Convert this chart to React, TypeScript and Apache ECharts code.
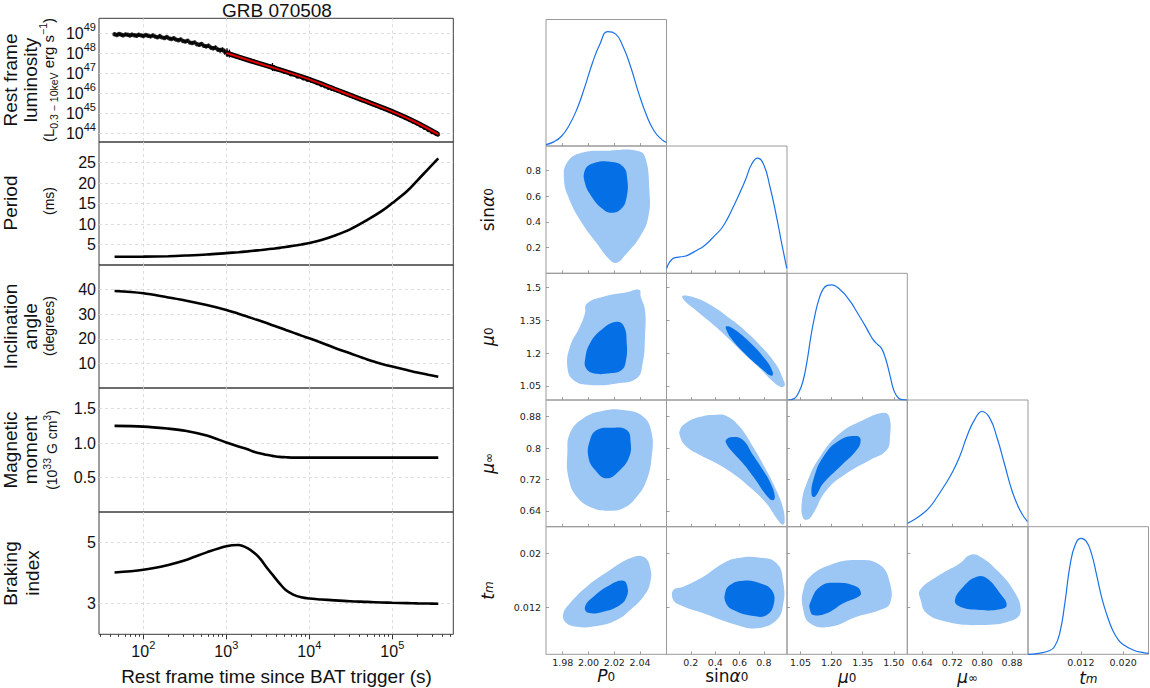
import React, { useEffect, useRef } from 'react';
import * as echarts from 'echarts';

const SANS = '"Liberation Sans", Arial, Helvetica, sans-serif';
const DEJAVU = '"DejaVu Sans", "Liberation Sans", sans-serif';

// ---------------- GRB 070508: magnetar model vs rest-frame time ----------------
// rest-frame time (s) for the model curves
const modelTime = [45, 100, 200, 320, 580, 1000, 1400, 1800, 2200, 2600, 3000, 3600, 4400, 5200, 6400, 8000, 10000, 14000, 20000, 31000, 50000, 75000, 100000, 150000, 200000, 270000, 358000];
const periodMs = [2.0, 2.05, 2.15, 2.3, 2.55, 2.9, 3.12, 3.32, 3.5, 3.65, 3.8, 3.98, 4.18, 4.4, 4.68, 5.0, 5.35, 6.1, 7.15, 8.7, 11.0, 13.2, 15.1, 18.0, 20.6, 23.4, 26.0];
const inclinationDeg = [39.4, 38.5, 36.8, 35.6, 33.7, 31.7, 30.2, 29.0, 28.0, 27.2, 26.5, 25.5, 24.5, 23.6, 22.5, 21.3, 20.2, 18.4, 16.4, 14.1, 11.6, 9.8, 8.7, 7.3, 6.3, 5.4, 4.6];
const magneticMoment = [1.25, 1.24, 1.21, 1.18, 1.11, 1.01, 0.95, 0.91, 0.87, 0.85, 0.83, 0.815, 0.8, 0.795, 0.79, 0.79, 0.79, 0.79, 0.79, 0.79, 0.79, 0.79, 0.79, 0.79, 0.79, 0.79, 0.79];
const brakingIndex = [4.02, 4.11, 4.27, 4.42, 4.68, 4.88, 4.92, 4.82, 4.65, 4.45, 4.22, 3.95, 3.66, 3.45, 3.3, 3.21, 3.17, 3.14, 3.11, 3.08, 3.06, 3.04, 3.03, 3.02, 3.01, 3.005, 3.0];

// model 0.3-10 keV luminosity, log10(erg/s)
const fitTime = [1000, 2000, 3900, 10000, 20000, 39000, 100000, 200000, 358000];
const fitLogL = [48.0, 47.6, 47.23, 46.68, 46.2, 45.73, 45.07, 44.5, 43.93];

// observed luminosity, log10(erg/s) with 1-sigma errors (dex)
const obsTime = [
  45, 48, 51, 54, 57, 61, 65, 69, 73, 78, 83, 88, 94, 100, 107, 114, 122, 130, 139, 148,
  158, 168, 180, 192, 205, 218, 233, 248, 265, 282, 301, 321, 342, 365, 389, 415, 443, 472, 503, 537,
  572, 610, 651, 694, 740, 789, 842, 898, 957, 1020, 1090,
  1150, 1300, 1500, 3400, 3600, 3800, 4000, 4300, 5000, 6000, 7200, 8500, 9500, 10500, 12500, 14000,
  15500, 17000, 18500, 20000, 22000, 25000, 28000, 31000, 34000, 37000, 41000, 46000, 52000, 58000,
  65000, 73000, 82000, 92000, 103000, 115000, 128000, 143000, 160000, 178000, 198000, 220000, 245000,
  272000, 302000, 335000, 355000,
];
const obsLogL = [
  48.94, 48.9, 48.95, 48.92, 48.88, 48.93, 48.91, 48.87, 48.92, 48.89, 48.86, 48.91, 48.88, 48.85, 48.9, 48.86, 48.83, 48.88, 48.82, 48.79,
  48.84, 48.78, 48.75, 48.8, 48.73, 48.7, 48.74, 48.67, 48.64, 48.68, 48.6, 48.57, 48.61, 48.52, 48.5, 48.53, 48.44, 48.41, 48.45, 48.36,
  48.33, 48.36, 48.27, 48.24, 48.27, 48.17, 48.14, 48.16, 48.06, 48.02, 47.97,
  47.93, 47.85, 47.76, 47.32, 47.3, 47.24, 47.2, 47.16, 47.06, 46.94, 46.82, 46.73, 46.66, 46.62, 46.5, 46.4,
  46.34, 46.26, 46.22, 46.19, 46.12, 46.02, 45.95, 45.88, 45.82, 45.77, 45.7, 45.62, 45.53, 45.45,
  45.37, 45.29, 45.21, 45.13, 45.04, 44.95, 44.86, 44.77, 44.67, 44.57, 44.48, 44.37, 44.26,
  44.15, 44.05, 43.97, 43.93,
];
const obsErr = [
  0.08, 0.07, 0.08, 0.07, 0.07, 0.08, 0.07, 0.07, 0.08, 0.07, 0.07, 0.08, 0.07, 0.07, 0.08, 0.07, 0.07, 0.08, 0.07, 0.07,
  0.1, 0.07, 0.07, 0.08, 0.07, 0.07, 0.08, 0.07, 0.07, 0.08, 0.07, 0.07, 0.08, 0.07, 0.07, 0.08, 0.08, 0.08, 0.09, 0.08,
  0.09, 0.1, 0.09, 0.1, 0.1, 0.1, 0.12, 0.12, 0.15, 0.22, 0.2,
  0.06, 0.05, 0.05, 0.12, 0.2, 0.15, 0.1, 0.06, 0.04, 0.04, 0.04, 0.04, 0.06, 0.05, 0.05, 0.08,
  0.06, 0.1, 0.12, 0.1, 0.08, 0.06, 0.05, 0.06, 0.05, 0.06, 0.04, 0.04, 0.04, 0.04,
  0.04, 0.04, 0.04, 0.04, 0.04, 0.04, 0.05, 0.05, 0.05, 0.05, 0.05, 0.05, 0.06,
  0.06, 0.07, 0.08, 0.1,
];

const decadeTicks = [2, 3, 4, 5];
const lumTicks = [44, 45, 46, 47, 48, 49];
const periodTicks = [5, 10, 15, 20, 25];
const inclinationTicks = [10, 20, 30, 40];
const momentTicks = [0.5, 1.0, 1.5];
const brakingTicks = [3, 5];

// ---------------- posterior of the magnetar parameters ----------------
const p0Grid = [1.967, 1.973, 1.979, 1.985, 1.991, 1.997, 2.003, 2.009, 2.015, 2.021, 2.027, 2.033, 2.039, 2.045, 2.051, 2.057, 2.0606];
const p0Density = [0.012, 0.036, 0.085, 0.18, 0.32, 0.51, 0.72, 0.89, 0.995, 0.975, 0.86, 0.68, 0.46, 0.27, 0.13, 0.055, 0.03];
const sinGrid = [0.002, 0.05, 0.1, 0.15, 0.2, 0.25, 0.3, 0.35, 0.4, 0.45, 0.5, 0.55, 0.6, 0.65, 0.7, 0.75, 0.8, 0.85, 0.9, 0.95, 0.988];
const sinDensity = [0.043, 0.125, 0.14, 0.147, 0.17, 0.2, 0.23, 0.275, 0.33, 0.385, 0.47, 0.578, 0.69, 0.81, 0.945, 0.995, 0.935, 0.748, 0.51, 0.24, 0.043];
const mu0Grid = [0.991, 1.02, 1.04, 1.06, 1.08, 1.1, 1.12, 1.14, 1.16, 1.18, 1.2, 1.22, 1.24, 1.26, 1.28, 1.3, 1.32, 1.34, 1.36, 1.38, 1.4, 1.42, 1.44, 1.46, 1.48, 1.5, 1.52, 1.54, 1.563];
const mu0Density = [0, 0.012, 0.06, 0.15, 0.32, 0.55, 0.74, 0.88, 0.965, 0.995, 1.0, 0.988, 0.96, 0.925, 0.88, 0.83, 0.77, 0.71, 0.65, 0.585, 0.525, 0.485, 0.45, 0.36, 0.225, 0.085, 0.02, 0.003, 0];
const muInfGrid = [0.601, 0.62, 0.64, 0.66, 0.68, 0.7, 0.72, 0.74, 0.76, 0.78, 0.8, 0.82, 0.84, 0.86, 0.88, 0.9, 0.921];
const muInfDensity = [0.03, 0.065, 0.11, 0.17, 0.26, 0.36, 0.47, 0.61, 0.79, 0.93, 1.0, 0.945, 0.77, 0.54, 0.31, 0.15, 0.043];
const tmGrid = [0.002, 0.004, 0.006, 0.007, 0.008, 0.009, 0.01, 0.011, 0.012, 0.013, 0.014, 0.015, 0.016, 0.017, 0.018, 0.019, 0.02, 0.022, 0.024, 0.0248];
const tmDensity = [0, 0.008, 0.03, 0.065, 0.18, 0.45, 0.78, 0.95, 1.0, 0.975, 0.87, 0.68, 0.48, 0.33, 0.21, 0.13, 0.085, 0.035, 0.012, 0.008];

// 68% (inner) and 95% (outer) credible regions, [x, y]
const sinVsP0Outer = [[1.983, 0.856], [1.9934, 0.934], [2.0167, 0.954], [2.0375, 0.954], [2.0439, 0.907], [2.0473, 0.648], [2.0465, 0.44], [2.04, 0.285], [2.0297, 0.156], [2.022, 0.082], [2.0167, 0.103], [2.0064, 0.233], [1.9934, 0.415], [1.9843, 0.596], [1.981, 0.726]];
const sinVsP0Inner = [[1.9973, 0.804], [2.0038, 0.856], [2.0167, 0.868], [2.027, 0.829], [2.0302, 0.726], [2.0297, 0.596], [2.0258, 0.506], [2.018, 0.471], [2.0103, 0.506], [2.0025, 0.596], [1.9973, 0.7]];
const mu0VsP0Outer = [[1.9986, 1.426], [2.0115, 1.458], [2.0297, 1.478], [2.0395, 1.489], [2.0406, 1.458], [2.0439, 1.397], [2.0439, 1.275], [2.0421, 1.153], [2.0375, 1.084], [2.022, 1.061], [2.0012, 1.054], [1.9882, 1.077], [1.9836, 1.137], [1.9856, 1.229], [1.9934, 1.321], [1.9973, 1.382]];
const mu0VsP0Inner = [[1.9973, 1.168], [2.0012, 1.245], [2.0115, 1.313], [2.022, 1.343], [2.0276, 1.321], [2.0297, 1.245], [2.0292, 1.168], [2.0258, 1.122], [2.0167, 1.107], [2.0038, 1.107], [1.9981, 1.13]];
const mu0VsSinOuter = [[0.133, 1.4625], [0.242, 1.452], [0.379, 1.414], [0.516, 1.36], [0.653, 1.299], [0.79, 1.223], [0.9, 1.147], [0.96, 1.078], [0.971, 1.051], [0.941, 1.045], [0.872, 1.071], [0.763, 1.132], [0.626, 1.203], [0.489, 1.277], [0.352, 1.345], [0.229, 1.402], [0.146, 1.441]];
const mu0VsSinInner = [[0.49, 1.322], [0.54, 1.315], [0.676, 1.254], [0.813, 1.17], [0.873, 1.112], [0.862, 1.096], [0.79, 1.124], [0.653, 1.192], [0.54, 1.261], [0.493, 1.304]];
const muInfVsP0Outer = [[1.9856, 0.8377], [1.996, 0.8759], [2.0115, 0.8952], [2.027, 0.897], [2.0426, 0.88], [2.0491, 0.8377], [2.0491, 0.7782], [2.0452, 0.7189], [2.0375, 0.6764], [2.027, 0.6468], [2.0167, 0.6408], [2.0038, 0.6468], [1.9909, 0.6764], [1.9843, 0.7273], [1.9836, 0.7868]];
const muInfVsP0Inner = [[2.0012, 0.8207], [2.0064, 0.8461], [2.0167, 0.852], [2.0297, 0.8461], [2.0328, 0.8122], [2.0317, 0.7782], [2.0245, 0.7443], [2.0142, 0.7232], [2.0051, 0.7443], [1.9999, 0.7782]];
const muInfVsSinOuter = [[0.111, 0.8469], [0.16, 0.8639], [0.27, 0.8791], [0.407, 0.885], [0.489, 0.8825], [0.598, 0.8555], [0.708, 0.8046], [0.818, 0.7451], [0.9, 0.6942], [0.954, 0.6519], [0.971, 0.6137], [0.954, 0.6051], [0.913, 0.6178], [0.818, 0.6603], [0.676, 0.7028], [0.54, 0.7367], [0.407, 0.7621], [0.27, 0.7832], [0.16, 0.8046], [0.111, 0.83]];
const muInfVsSinInner = [[0.49, 0.8214], [0.54, 0.8283], [0.626, 0.8214], [0.708, 0.7838], [0.79, 0.7456], [0.854, 0.7112], [0.89, 0.6774], [0.873, 0.6672], [0.827, 0.6774], [0.731, 0.7196], [0.626, 0.7621], [0.526, 0.796], [0.49, 0.813]];
const muInfVsMu0Outer = [[1.0636, 0.6214], [1.056, 0.6596], [1.08, 0.7105], [1.144, 0.7782], [1.2405, 0.8377], [1.353, 0.8716], [1.4493, 0.8901], [1.478, 0.88], [1.4816, 0.829], [1.4657, 0.7952], [1.385, 0.7698], [1.2728, 0.7359], [1.1764, 0.6934], [1.1118, 0.6341], [1.0877, 0.6188]];
const muInfVsMu0Inner = [[1.104, 0.6807], [1.1118, 0.7189], [1.16, 0.7782], [1.2405, 0.8207], [1.321, 0.8308], [1.3403, 0.8207], [1.321, 0.7952], [1.2405, 0.7528], [1.16, 0.7105], [1.12, 0.6764]];
const tmVsP0Outer = [[1.9805, 0.0111], [1.9856, 0.0126], [1.9986, 0.01507], [2.0167, 0.01755], [2.0323, 0.0193], [2.0426, 0.01953], [2.0478, 0.01804], [2.0478, 0.01557], [2.0426, 0.01358], [2.0323, 0.0116], [2.022, 0.01011], [2.0064, 0.00921], [1.9909, 0.00911], [1.9818, 0.00985]];
const tmVsP0Inner = [[1.9973, 0.01209], [2.0038, 0.01358], [2.0167, 0.01532], [2.027, 0.01596], [2.0302, 0.01507], [2.0297, 0.0136], [2.0245, 0.01234], [2.0115, 0.01134], [1.9999, 0.01119]];
const tmVsSinOuter = [[0.056, 0.01457], [0.138, 0.01507], [0.302, 0.01656], [0.467, 0.01855], [0.577, 0.0193], [0.741, 0.01944], [0.905, 0.01855], [0.96, 0.01557], [0.96, 0.0126], [0.905, 0.01011], [0.741, 0.00887], [0.577, 0.00936], [0.302, 0.0111], [0.111, 0.01234], [0.056, 0.01308]];
const tmVsSinInner = [[0.481, 0.01408], [0.522, 0.01532], [0.631, 0.01596], [0.768, 0.01557], [0.864, 0.01457], [0.883, 0.0126], [0.823, 0.01085], [0.713, 0.0107], [0.549, 0.0116], [0.489, 0.0126]];
const tmVsMu0Outer = [[1.0636, 0.01457], [1.0959, 0.01656], [1.1923, 0.0183], [1.321, 0.01904], [1.4334, 0.0183], [1.4816, 0.01557], [1.4816, 0.0126], [1.4334, 0.0116], [1.321, 0.0106], [1.1923, 0.00911], [1.0959, 0.00962], [1.0607, 0.01209]];
const tmVsMu0Inner = [[1.0959, 0.0126], [1.144, 0.01507], [1.2246, 0.01567], [1.321, 0.01507], [1.3418, 0.01408], [1.3288, 0.01358], [1.2564, 0.0126], [1.1764, 0.0111], [1.1118, 0.01085], [1.0959, 0.0116]];
const tmVsMuInfOuter = [[0.6339, 0.01457], [0.6786, 0.01656], [0.7408, 0.01855], [0.7675, 0.01979], [0.7943, 0.01953], [0.8389, 0.01755], [0.8832, 0.01457], [0.903, 0.0116], [0.8832, 0.01011], [0.7943, 0.00936], [0.7053, 0.00985], [0.6518, 0.0111], [0.6358, 0.01308]];
const tmVsMuInfInner = [[0.7274, 0.01308], [0.7496, 0.01507], [0.7854, 0.01656], [0.8122, 0.01632], [0.8477, 0.01408], [0.8656, 0.01234], [0.8477, 0.0117], [0.7943, 0.0116], [0.7408, 0.01209]];

// tick values per parameter
const p0Ticks = [1.98, 2.0, 2.02, 2.04];
const sinTicks = [0.2, 0.4, 0.6, 0.8];
const mu0Ticks = [1.05, 1.2, 1.35, 1.5];
const muInfTicks = [0.64, 0.72, 0.8, 0.88];
const tmXTicks = [0.012, 0.02];
const tmYTicks = [0.012, 0.02];

// ---------------- layout / style ----------------
const LINE_BLUE = '#1a72ea';
const FILL_OUTER = '#9cc6f4';
const FILL_INNER = '#0570e6';

const powRich = {
  b: { fontSize: 16, fontFamily: SANS, color: '#111', lineHeight: 24 },
  s: { fontSize: 11, fontFamily: SANS, color: '#111', lineHeight: 12, verticalAlign: 'top' },
};

const mathRich = {
  r: { fontSize: 17, fontFamily: DEJAVU, color: '#111', lineHeight: 14 },
  i: { fontSize: 17, fontFamily: DEJAVU, fontStyle: 'italic', color: '#111', lineHeight: 14 },
  s: { fontSize: 12, fontFamily: DEJAVU, color: '#111', lineHeight: 2, verticalAlign: 'bottom' },
  si: { fontSize: 12, fontFamily: DEJAVU, fontStyle: 'italic', color: '#111', lineHeight: 2, verticalAlign: 'bottom' },
};

const unitRich = {
  n: { fontSize: 15, fontFamily: SANS, color: '#111', lineHeight: 22 },
  p: { fontSize: 10.5, fontFamily: SANS, color: '#111', lineHeight: 11, verticalAlign: 'top' },
  b: { fontSize: 10.5, fontFamily: SANS, color: '#111', lineHeight: 11, verticalAlign: 'bottom' },
};

const X_MIN = 1.466;
const X_MAX = 5.735;

function buildOption() {
  const grid: any[] = [];
  const xAxis: any[] = [];
  const yAxis: any[] = [];
  const series: any[] = [];
  const gridLines = { show: true, lineStyle: { color: '#d4d4d4', type: [3, 3], width: 0.8 } };

  // ---- left column ----
  const leftPanels = [
    { top: 18.3, height: 123.7, min: 43.55, max: 49.735, ticks: lumTicks, fmt: (v: number) => `{b|10}{s|${Math.round(v)}}` },
    { top: 142, height: 123, min: 0, max: 30, ticks: periodTicks, fmt: (v: number) => `{b|${v}}` },
    { top: 265, height: 123, min: 0, max: 50, ticks: inclinationTicks, fmt: (v: number) => `{b|${v}}` },
    { top: 388, height: 124, min: 0, max: 1.8, ticks: momentTicks, fmt: (v: number) => `{b|${v.toFixed(1)}}` },
    { top: 512, height: 122.3, min: 2, max: 6, ticks: brakingTicks, fmt: (v: number) => `{b|${v}}` },
  ];
  leftPanels.forEach((p, i) => {
    const bottom = i === leftPanels.length - 1;
    grid.push({ left: 99, width: 354.3, top: p.top, height: p.height, show: true, borderColor: '#3c3c3c', borderWidth: 1 });
    xAxis.push({
      type: 'value', gridIndex: i, min: X_MIN, max: X_MAX,
      axisLine: { show: false },
      axisTick: { show: bottom, customValues: decadeTicks, length: 5, lineStyle: { color: '#333' } },
      axisLabel: { show: bottom, customValues: decadeTicks, margin: 5, formatter: (v: number) => `{b|10}{s|${Math.round(v)}}`, rich: powRich },
      splitLine: gridLines,
    });
    yAxis.push({
      type: 'value', gridIndex: i, min: p.min, max: p.max,
      axisLine: { show: false },
      axisTick: { show: false, customValues: p.ticks },
      axisLabel: { customValues: p.ticks, margin: 3, formatter: p.fmt, rich: powRich },
      splitLine: gridLines,
    });
  });

  // minor decade ticks under the shared time axis
  const minorTicks: number[] = [];
  for (let d = 1; d <= 5; d++) {
    for (let m = 2; m <= 9; m++) {
      const v = d + Math.log10(m);
      if (v > X_MIN && v < X_MAX) minorTicks.push(v);
    }
  }
  xAxis.push({
    type: 'value', gridIndex: 4, position: 'bottom', min: X_MIN, max: X_MAX,
    axisLine: { show: false },
    axisTick: { show: true, customValues: minorTicks, length: 2.5, lineStyle: { color: '#333' } },
    axisLabel: { show: false },
    splitLine: { show: false },
  });

  const lt = (t: number) => Math.log10(t);
  // luminosity: error bars, points, fitted model
  series.push({
    type: 'custom', xAxisIndex: 0, yAxisIndex: 0, z: 2, silent: true,
    encode: { x: 0, y: 1 },
    data: obsTime.map((t, k) => [lt(t), obsLogL[k], obsLogL[k] - obsErr[k], obsLogL[k] + obsErr[k]]),
    renderItem: (params: any, api: any) => {
      const a = api.coord([api.value(0), api.value(2)]);
      const b = api.coord([api.value(0), api.value(3)]);
      return { type: 'line', shape: { x1: a[0], y1: a[1], x2: b[0], y2: b[1] }, style: { stroke: '#000', lineWidth: 1.3 } };
    },
  });
  series.push({
    type: 'scatter', xAxisIndex: 0, yAxisIndex: 0, z: 3, silent: true,
    symbolSize: 4.5, itemStyle: { color: '#000' },
    data: obsTime.map((t, k) => [lt(t), obsLogL[k]]),
  });
  const fitData = fitTime.map((t, k) => [lt(t), fitLogL[k]]);
  series.push({
    type: 'line', xAxisIndex: 0, yAxisIndex: 0, z: 4, silent: true, showSymbol: false, smooth: 0.3,
    lineStyle: { color: '#000', width: 5 }, data: fitData,
  });
  series.push({
    type: 'line', xAxisIndex: 0, yAxisIndex: 0, z: 5, silent: true, showSymbol: false, smooth: 0.3,
    lineStyle: { color: '#e00000', width: 2 }, data: fitData,
  });
  [periodMs, inclinationDeg, magneticMoment, brakingIndex].forEach((vals, k) => {
    series.push({
      type: 'line', xAxisIndex: k + 1, yAxisIndex: k + 1, silent: true, showSymbol: false, smooth: 0.35,
      lineStyle: { color: '#000', width: 2.6 },
      data: modelTime.map((t, j) => [lt(t), vals[j]]),
    });
  });

  // ---- corner plot ----
  const colX = [546, 666.5, 787, 907.3, 1028, 1148.5];
  const rowY = [19.5, 146, 273.3, 400, 526.7, 654.3];
  const params = [
    { xMin: 1.967, xMax: 2.0606, yMin: 1.967, yMax: 2.0606, xTicks: p0Ticks, yTicks: p0Ticks, xFmt: (v: number) => v.toFixed(2), yFmt: (v: number) => String(v), grid: p0Grid, dens: p0Density },
    { xMin: 0, xMax: 0.99, yMin: 0, yMax: 0.99, xTicks: sinTicks, yTicks: sinTicks, xFmt: (v: number) => v.toFixed(1), yFmt: (v: number) => String(v), grid: sinGrid, dens: sinDensity },
    { xMin: 0.985, xMax: 1.565, yMin: 0.985, yMax: 1.565, xTicks: mu0Ticks, yTicks: mu0Ticks, xFmt: (v: number) => v.toFixed(2), yFmt: (v: number) => String(v), grid: mu0Grid, dens: mu0Density },
    { xMin: 0.6, xMax: 0.9225, yMin: 0.6, yMax: 0.9225, xTicks: muInfTicks, yTicks: muInfTicks, xFmt: (v: number) => v.toFixed(2), yFmt: (v: number) => String(v), grid: muInfGrid, dens: muInfDensity },
    { xMin: 0.002, xMax: 0.0248, yMin: 0.005, yMax: 0.024, xTicks: tmXTicks, yTicks: tmYTicks, xFmt: (v: number) => v.toFixed(3), yFmt: (v: number) => String(v), grid: tmGrid, dens: tmDensity },
  ];
  const regions: Record<string, number[][][]> = {
    '1,0': [sinVsP0Outer, sinVsP0Inner],
    '2,0': [mu0VsP0Outer, mu0VsP0Inner],
    '2,1': [mu0VsSinOuter, mu0VsSinInner],
    '3,0': [muInfVsP0Outer, muInfVsP0Inner],
    '3,1': [muInfVsSinOuter, muInfVsSinInner],
    '3,2': [muInfVsMu0Outer, muInfVsMu0Inner],
    '4,0': [tmVsP0Outer, tmVsP0Inner],
    '4,1': [tmVsSinOuter, tmVsSinInner],
    '4,2': [tmVsMu0Outer, tmVsMu0Inner],
    '4,3': [tmVsMuInfOuter, tmVsMuInfInner],
  };
  const cornerTickStyle = { color: '#8a8a8a', width: 0.8 };
  const cornerLabel = { fontSize: 9.5, fontFamily: DEJAVU, color: '#222' };

  for (let r = 0; r < 5; r++) {
    for (let c = 0; c <= r; c++) {
      const gi = grid.length;
      const xi = xAxis.length;
      const yi = yAxis.length;
      grid.push({
        left: colX[c], top: rowY[r], width: colX[c + 1] - colX[c], height: rowY[r + 1] - rowY[r],
        show: true, borderColor: '#9a9a9a', borderWidth: 1,
      });
      const px = params[c];
      xAxis.push({
        type: 'value', gridIndex: gi, min: px.xMin, max: px.xMax,
        axisLine: { show: false },
        axisTick: { show: true, inside: true, length: 3, customValues: px.xTicks, lineStyle: cornerTickStyle },
        axisLabel: { show: r === 4, customValues: px.xTicks, margin: 3, formatter: px.xFmt, ...cornerLabel },
        splitLine: { show: false },
      });
      if (r === c) {
        yAxis.push({
          type: 'value', gridIndex: gi, min: 0, max: 1.1,
          axisLine: { show: false }, axisTick: { show: false }, axisLabel: { show: false }, splitLine: { show: false },
        });
        series.push({
          type: 'line', xAxisIndex: xi, yAxisIndex: yi, silent: true, showSymbol: false, smooth: 0.5,
          clip: true,
          lineStyle: { color: LINE_BLUE, width: 1.2 },
          data: px.grid.map((v, k) => [v, px.dens[k]]),
        });
      } else {
        const py = params[r];
        yAxis.push({
          type: 'value', gridIndex: gi, min: py.yMin, max: py.yMax,
          axisLine: { show: false },
          axisTick: { show: true, inside: true, length: 3, customValues: py.yTicks, lineStyle: cornerTickStyle },
          axisLabel: { show: c === 0, customValues: py.yTicks, margin: 5, formatter: py.yFmt, ...cornerLabel },
          splitLine: { show: false },
        });
        const [outer, inner] = regions[`${r},${c}`];
        [[outer, FILL_OUTER], [inner, FILL_INNER]].forEach(([pts, fill]: any) => {
          series.push({
            type: 'custom', coordinateSystem: 'cartesian2d', xAxisIndex: xi, yAxisIndex: yi,
            silent: true, clip: true, encode: { x: 0, y: 1 },
            data: pts,
            renderItem: (prm: any, api: any) => {
              if (prm.dataIndex !== 0) return null;
              return {
                type: 'polygon',
                shape: { points: pts.map((p: number[]) => api.coord(p)), smooth: 0.45 },
                style: { fill },
              };
            },
          });
        });
      }
    }
  }

  // ---- texts ----
  const txt = (x: number, y: number, text: string, size: number, rotate: boolean, rich?: any, family = SANS) => ({
    type: 'text', x, y, rotation: rotate ? Math.PI / 2 : 0, silent: true,
    style: {
      text, fontSize: size, fontFamily: family, fill: '#111',
      align: 'center', verticalAlign: 'middle', textAlign: 'center', textVerticalAlign: 'middle',
      rich,
    },
  });
  const elements = [
    txt(277, 10.5, 'GRB 070508', 19, false),
    txt(276.5, 676.5, 'Rest frame time since BAT trigger (s)', 19, false),
    txt(10, 80, 'Rest frame', 19, true),
    txt(30.5, 80, 'luminosity', 19, true),
    txt(48, 80, '{n|(L}{b|0.3 − 10keV}{n| erg s}{p|−1}{n|)}', 15, true, unitRich),
    txt(10, 203, 'Period', 19, true),
    txt(49, 201, '(ms)', 14, true),
    txt(10, 326.5, 'Inclination', 19, true),
    txt(30.5, 326.5, 'angle', 19, true),
    txt(49, 326, '(degrees)', 14, true),
    txt(10, 450, 'Magnetic', 19, true),
    txt(30.5, 450, 'moment', 19, true),
    txt(52, 450, '{n|(10}{p|33}{n| G cm}{p|3}{n|)}', 14, true, { ...unitRich, n: { ...unitRich.n, fontSize: 14 } }),
    txt(10, 573.5, 'Braking', 19, true),
    txt(32, 573, 'index', 19, true),
    // corner plot axis names
    txt(606.3, 676, '{i|P}{s|0}', 17, false, mathRich, DEJAVU),
    txt(726.8, 676, '{r|sin}{i|α}{s|0}', 17, false, mathRich, DEJAVU),
    txt(847.2, 677, '{i|μ}{s|0}', 17, false, mathRich, DEJAVU),
    txt(967.7, 677, '{i|μ}{s|∞}', 17, false, mathRich, DEJAVU),
    txt(1088.3, 678, '{i|t}{si|m}', 17, false, mathRich, DEJAVU),
    txt(488, 209.7, '{r|sin}{i|α}{s|0}', 17, true, mathRich, DEJAVU),
    txt(488, 336.7, '{i|μ}{s|0}', 17, true, mathRich, DEJAVU),
    txt(488, 463.4, '{i|μ}{s|∞}', 17, true, mathRich, DEJAVU),
    txt(488, 590.5, '{i|t}{si|m}', 17, true, mathRich, DEJAVU),
  ];

  return {
    animation: false,
    backgroundColor: '#ffffff',
    textStyle: { fontFamily: SANS },
    grid, xAxis, yAxis, series,
    graphic: { elements },
  };
}

export default function App() {
  const ref = useRef<HTMLDivElement>(null);
  useEffect(() => {
    if (!ref.current) return;
    const chart = echarts.init(ref.current, null, { renderer: 'svg' });
    chart.setOption(buildOption() as any);
    return () => chart.dispose();
  }, []);
  return (
    <div
      ref={ref}
      style={{ position: 'absolute', left: 0, top: 0, width: 1150, height: 688, background: '#fff' }}
    />
  );
}
